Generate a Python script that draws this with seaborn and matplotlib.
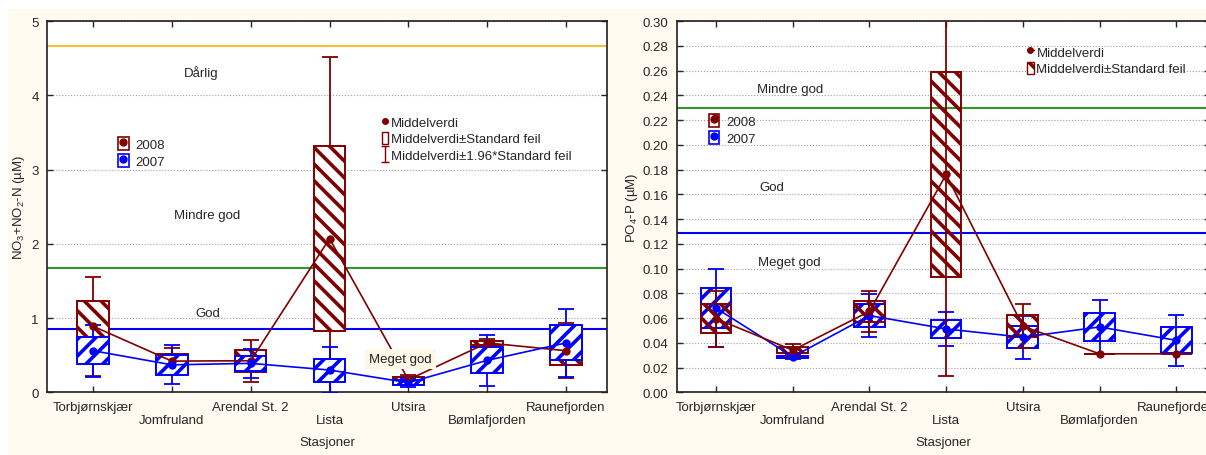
import numpy as np
import pandas as pd
import matplotlib
matplotlib.use("Agg")
import matplotlib.pyplot as plt
import seaborn as sns
from matplotlib.patches import Patch, Rectangle
from matplotlib.lines import Line2D
from matplotlib.path import Path
from matplotlib.ticker import FormatStrFormatter

# ---------------- data ----------------
stations = ["Torbjørnskjær", "Jomfruland", "Arendal St. 2", "Lista",
            "Utsira", "Bømlafjorden", "Raunefjorden"]
years = ["2008", "2007"]

no3_mean_2008 = [0.89, 0.42, 0.425, 2.07, 0.17, 0.665, 0.56]
no3_se_2008 = [0.34, 0.09, 0.145, 1.25, 0.03, 0.025, 0.19]
no3_mean_2007 = [0.56, 0.37, 0.39, 0.30, 0.13, 0.43, 0.665]
no3_se_2007 = [0.18, 0.135, 0.10, 0.155, 0.03, 0.175, 0.235]

po4_mean_2008 = [0.0595, 0.034, 0.0654, 0.176, 0.0534, 0.0311, 0.0311]
po4_se_2008 = [0.0115, 0.0025, 0.0085, 0.083, 0.009, 0.0, 0.0]
po4_mean_2007 = [0.068, 0.0287, 0.062, 0.0512, 0.0445, 0.0528, 0.042]
po4_se_2007 = [0.016, 0.001, 0.009, 0.007, 0.0088, 0.011, 0.0105]

no3_limits = [0.85, 1.68, 4.67]
po4_limits = [0.129, 0.23]
no3_classes = ["Meget god", "God", "Mindre god", "Dårlig"]
po4_classes = ["Meget god", "God", "Mindre god"]
z = 1.96

# ---------------- style ----------------
sns.set_style("ticks")
plt.rcParams["font.family"] = ["Liberation Sans", "DejaVu Sans"]
plt.rcParams["mathtext.default"] = "regular"
plt.rcParams["hatch.linewidth"] = 2.6

RED = "#800000"
BLUE = "#0000ff"
GREEN = "#2e9a2e"
GOLD = "#f2c230"
BG = "#fffbf0"
FS = 9.5
H08 = "\\\\"
H07 = "//"

fig = plt.figure(figsize=(12.06, 4.56), dpi=100, facecolor="white")
fig.patches.append(Rectangle((8 / 1206, 0), 1, 1 - 10 / 456,
                             transform=fig.transFigure, facecolor=BG,
                             edgecolor="none", zorder=-10))
axL = fig.add_axes([0.039, 0.1375, 0.4643, 0.8142])
axR = fig.add_axes([0.5613, 0.1375, 0.4420, 0.8142])

pos = np.arange(len(stations))
BW = 0.4

ibeam = Path([(-0.5, 1), (0.5, 1), (0, 1), (0, -1), (-0.5, -1), (0.5, -1)],
             [Path.MOVETO, Path.LINETO, Path.MOVETO, Path.LINETO,
              Path.MOVETO, Path.LINETO])


def draw_series(ax, mean, se, color, hatch, z0, filled):
    mean = np.asarray(mean)
    se = np.asarray(se)
    ax.errorbar(pos, mean, yerr=z * se, fmt="none", ecolor=color,
                capsize=6, elinewidth=1.3, capthick=1.3, zorder=z0)
    ax.bar(pos, 2 * se, bottom=mean - se, width=BW,
           facecolor="white" if filled else "none",
           edgecolor=color, hatch=hatch, linewidth=1.4, zorder=z0 + 1)


def draw_means(ax, mean, color):
    df = pd.DataFrame({"pos": pos, "mean": mean})
    sns.lineplot(data=df, x="pos", y="mean", color=color, marker="o",
                 markersize=6, markeredgewidth=0, linewidth=1.2,
                 errorbar=None, ax=ax, zorder=10)


def style_axis(ax, xlim):
    ax.set_xlim(*xlim)
    ax.set_xticks(pos)
    ax.set_xticklabels([s if i % 2 == 0 else "\n" + s
                        for i, s in enumerate(stations)], fontsize=FS)
    ax.tick_params(direction="in", top=True, right=True, length=4,
                   width=1, labelsize=FS, pad=6)
    ax.yaxis.grid(True, linestyle=":", color="#a0a0a0", linewidth=0.8)
    ax.set_axisbelow(True)
    for sp in ax.spines.values():
        sp.set_visible(True)
        sp.set_linewidth(1.2)
        sp.set_color("#202020")
    ax.set_facecolor("white")
    ax.set_xlabel("Stasjoner", fontsize=FS, labelpad=7)


# ---------------- left panel ----------------
for lim, col in zip(no3_limits, [BLUE, GREEN, GOLD]):
    axL.axhline(lim, color=col, linewidth=1.5, zorder=1.5)
draw_series(axL, no3_mean_2008, no3_se_2008, RED, H08, 2, True)
draw_series(axL, no3_mean_2007, no3_se_2007, BLUE, H07, 4, True)
draw_means(axL, no3_mean_2008, RED)
draw_means(axL, no3_mean_2007, BLUE)
axL.set_ylim(0, 5)
axL.set_yticks([0, 1, 2, 3, 4, 5])
style_axis(axL, (-0.584, 6.52))
axL.set_ylabel(r"NO$_3$+NO$_2$-N (µM)", fontsize=FS, labelpad=3)

axL.text(1.37, 4.31, no3_classes[3], fontsize=FS, ha="center", va="center")
axL.text(1.45, 2.39, no3_classes[2], fontsize=FS, ha="center", va="center")
axL.text(1.45, 1.07, no3_classes[1], fontsize=FS, ha="center", va="center")
axL.text(3.9, 0.45, no3_classes[0], fontsize=FS, ha="center", va="center",
         zorder=12, bbox=dict(facecolor="#fdf7e6", edgecolor="none", pad=3))

hL1 = [(Patch(facecolor="white", edgecolor=RED, hatch="\\", linewidth=1.2),
        Line2D([], [], marker="o", color=RED, ls="none", markersize=5)),
       (Patch(facecolor="white", edgecolor=BLUE, hatch="/", linewidth=1.2),
        Line2D([], [], marker="o", color=BLUE, ls="none", markersize=5))]
legY = axL.legend(hL1, years, loc="upper left", bbox_to_anchor=(0.127, 0.688),
                  frameon=False, fontsize=FS, handlelength=0.8,
                  handleheight=1.1, handletextpad=0.5, labelspacing=0.25,
                  borderpad=0, borderaxespad=0)
axL.add_artist(legY)
hL2 = [Line2D([], [], marker="o", color=RED, ls="-", markersize=4, lw=1),
       Patch(facecolor="none", edgecolor=RED, linewidth=1),
       Line2D([], [], marker=ibeam, color=RED, ls="none", markersize=11,
              markerfacecolor="none", markeredgewidth=1)]
axL.legend(hL2, ["Middelverdi", "Middelverdi±Standard feil",
                 "Middelverdi±1.96*Standard feil"],
           loc="upper left", bbox_to_anchor=(0.598, 0.746), frameon=False,
           fontsize=FS, handlelength=0.5, handleheight=1.0,
           handletextpad=0.2, labelspacing=0.25, borderpad=0,
           borderaxespad=0)

# ---------------- right panel ----------------
for lim, col in zip(po4_limits, [BLUE, GREEN]):
    axR.axhline(lim, color=col, linewidth=1.5, zorder=1.5)
draw_series(axR, po4_mean_2007, po4_se_2007, BLUE, H07, 2, False)
draw_series(axR, po4_mean_2008, po4_se_2008, RED, H08, 4, False)
draw_means(axR, po4_mean_2007, BLUE)
draw_means(axR, po4_mean_2008, RED)
axR.set_ylim(0, 0.30)
axR.set_yticks(np.round(np.arange(0, 0.301, 0.02), 2))
axR.yaxis.set_major_formatter(FormatStrFormatter("%.2f"))
style_axis(axR, (-0.51, 6.44))
axR.set_ylabel(r"PO$_4$-P (µM)", fontsize=FS, labelpad=2)

axR.text(0.96, 0.245, po4_classes[2], fontsize=FS, ha="center", va="center")
axR.text(0.73, 0.166, po4_classes[1], fontsize=FS, ha="center", va="center")
axR.text(0.96, 0.105, po4_classes[0], fontsize=FS, ha="center", va="center")

hR1 = [(Patch(facecolor="white", edgecolor=RED, hatch="\\", linewidth=1.2),
        Line2D([], [], marker="o", color=RED, ls="none", markersize=5)),
       (Patch(facecolor="white", edgecolor=BLUE, hatch="/", linewidth=1.2),
        Line2D([], [], marker="o", color=BLUE, ls="none", markersize=5))]
legY2 = axR.legend(hR1, years, loc="upper left", bbox_to_anchor=(0.06, 0.75),
                   frameon=False, fontsize=FS, handlelength=0.8,
                   handleheight=1.1, handletextpad=0.5, labelspacing=0.25,
                   borderpad=0, borderaxespad=0)
axR.add_artist(legY2)
hR2 = [Line2D([], [], marker="o", color=RED, ls="-", markersize=4, lw=1),
       Patch(facecolor="white", edgecolor=RED, hatch="\\", linewidth=1)]
axR.legend(hR2, ["Middelverdi", "Middelverdi±Standard feil"],
           loc="upper left", bbox_to_anchor=(0.657, 0.935), frameon=False,
           fontsize=FS, handlelength=0.5, handleheight=1.0,
           handletextpad=0.2, labelspacing=0.25, borderpad=0,
           borderaxespad=0)

fig.savefig("out.png", dpi=100, facecolor="white")
